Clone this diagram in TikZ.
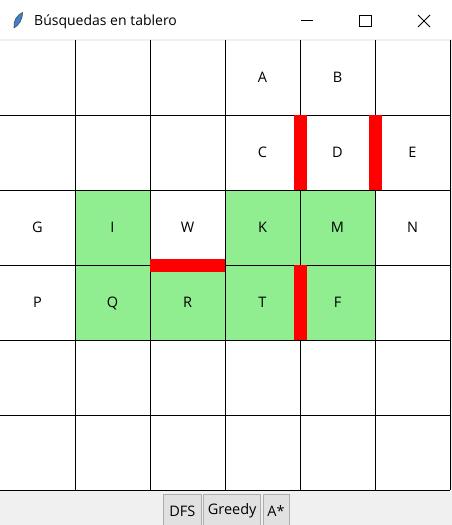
\documentclass[tikz,border=0pt]{standalone}
\usepackage{fontspec}
\setmainfont{Open Sans}
\usetikzlibrary{positioning}
\definecolor{tkgreen}{HTML}{90EE90}
\definecolor{tkgray}{HTML}{F0F0F0}
\definecolor{btnfill}{HTML}{E1E1E1}
\definecolor{btnline}{HTML}{ADADAD}
\definecolor{featherblue}{HTML}{3F7FD0}
\begin{document}
\begin{tikzpicture}[x=1pt, y=-1pt,
        letter/.style={font=\fontsize{14.5}{16}\selectfont, inner sep=0pt, text height=10.4pt, text depth=0pt},
        wall/.style={fill=red},
        button/.style={draw=btnline, fill=btnfill, line width=0.8pt, minimum height=34pt, inner sep=0pt, font=\fontsize{14.5}{16}\selectfont}]
        \useasboundingbox (0,0) rectangle (452,525);

        % 1. Window background, title bar and canvas
        \fill[tkgray] (0,0) rectangle (452,525);
        \fill[white] (0,0) rectangle (452,39);
        \fill[white] (0,41) rectangle (450,490);

        % 2. Title bar: icon, title and window controls
        \fill[featherblue, draw=black!70, line width=0.6pt] (14,28) .. controls (13,21) and (17,15) .. (22.5,12.5) .. controls (22.5,20) and (19,25) .. (14,28);
        \node[letter, anchor=west, font=\fontsize{14}{16}\selectfont] (title) at (34,20.5) {Búsquedas en tablero};
        \draw[line width=0.9pt] (301,20.5) -- (313,20.5);
        \draw[line width=0.9pt] (359.5,15.5) rectangle (371,26.5);
        \draw[line width=0.9pt] (418,15) -- (430,27) (418,27) -- (430,15);

        % 3. Green cells
        \foreach \c/\r in {1/2,3/2,4/2,1/3,2/3,3/3,4/3} {
            \fill[tkgreen] ({75*\c},{40+75*\r}) rectangle +(75,75);
        }

        % 4. Grid lines
        \foreach \i in {1,...,6} {
            \draw[line width=1pt] ({75*\i},40) -- ({75*\i},490);
            \draw[line width=1pt] (0,{40+75*\i}) -- (450,{40+75*\i});
        }

        % 5. Red walls
        \fill[wall] (293.5,115) rectangle (306.5,190);
        \fill[wall] (368.5,115) rectangle (381.5,190);
        \fill[wall] (150,258.5) rectangle (225,271.5);
        \fill[wall] (293.5,265) rectangle (306.5,340);

        % 6. Cell labels
        \foreach \c/\r/\t in {3/0/A,4/0/B,3/1/C,4/1/D,5/1/E,0/2/G,1/2/I,2/2/W,3/2/K,4/2/M,5/2/N,0/3/P,1/3/Q,2/3/R,3/3/T,4/3/F} {
            \node[letter] (\t) at ({75*\c+37.5},{77.5+75*\r}) {\t};
        }

        % 7. Buttons
        \node[button, minimum width=38pt, anchor=north west] (dfs) at (163,493.5) {DFS};
        \node[button, minimum width=57pt, right=1.5pt of dfs] (greedy) {Greedy};
        \node[button, minimum width=26pt, right=1.5pt of greedy] (astar) {A*};
    \end{tikzpicture}
\end{document}
